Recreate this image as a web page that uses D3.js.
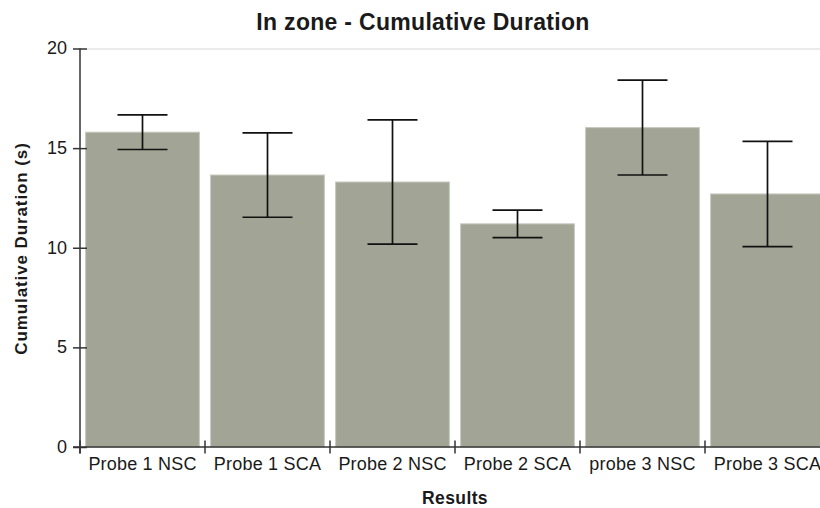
<!DOCTYPE html>
<html>
<head>
<meta charset="utf-8">
<script src="https://cdn.jsdelivr.net/npm/d3@7/dist/d3.min.js"></script>
<style>
  html, body { margin: 0; padding: 0; background: #ffffff; overflow: hidden; }
  svg { display: block; font-family: "Liberation Sans", Arial, sans-serif; }
</style>
</head>
<body>
<svg id="chart" width="820" height="508"></svg>
<script>
// Cumulative duration in zone per probe group (mean ± error)
const categories = ["Probe 1 NSC", "Probe 1 SCA", "Probe 2 NSC", "Probe 2 SCA", "probe 3 NSC", "Probe 3 SCA"];
const means      = [15.8, 13.65, 13.3, 11.2, 16.03, 12.7];
const errors     = [0.87, 2.12, 3.12, 0.69, 2.38, 2.64];
const yTicks     = [0, 5, 10, 15, 20];

const svg = d3.select("#chart");
const plot = { left: 80, right: 830, top: 48.5, bottom: 447 };

const x = d3.scaleBand()
  .domain(categories)
  .range([plot.left, plot.right])
  .paddingInner(0.09)
  .paddingOuter(0.045);

const y = d3.scaleLinear()
  .domain([0, 20])
  .range([plot.bottom, plot.top]);

const textColor = "#1a1a1a";
const axisColor = "#333333";

// Title
svg.append("text")
  .attr("x", 423)
  .attr("y", 30)
  .attr("text-anchor", "middle")
  .attr("font-size", 23)
  .attr("font-weight", "bold")
  .attr("letter-spacing", "0.3px")
  .attr("fill", textColor)
  .text("In zone - Cumulative Duration");

// Top boundary line of the plot area
svg.append("line")
  .attr("x1", plot.left + 7).attr("x2", plot.right)
  .attr("y1", y(20) + 0.5).attr("y2", y(20) + 0.5)
  .attr("stroke", "#e3e3e3").attr("stroke-width", 1.5);

// Bars
svg.append("g").selectAll("rect")
  .data(categories)
  .join("rect")
  .attr("x", d => x(d))
  .attr("y", (d, i) => y(means[i]))
  .attr("width", x.bandwidth())
  .attr("height", (d, i) => y(0) - y(means[i]))
  .attr("fill", "#a2a595")
  .attr("stroke", "#c6c8be")
  .attr("stroke-width", 1);

// Error bars
const capHalf = 25;
const eb = svg.append("g")
  .attr("stroke", "#111111")
  .attr("stroke-width", 1.7)
  .attr("fill", "none");
categories.forEach((c, i) => {
  const cx = x(c) + x.bandwidth() / 2;
  const hi = y(means[i] + errors[i]);
  const lo = y(means[i] - errors[i]);
  eb.append("line").attr("x1", cx).attr("x2", cx).attr("y1", hi).attr("y2", lo);
  eb.append("line").attr("x1", cx - capHalf).attr("x2", cx + capHalf).attr("y1", hi).attr("y2", hi);
  eb.append("line").attr("x1", cx - capHalf).attr("x2", cx + capHalf).attr("y1", lo).attr("y2", lo);
});

// Y axis with ticks crossing the axis line
const yAxis = d3.axisLeft(y)
  .tickValues(yTicks)
  .tickSizeInner(7)
  .tickSizeOuter(0)
  .tickPadding(6);
const gy = svg.append("g")
  .attr("transform", `translate(${plot.left},0)`)
  .call(yAxis);
gy.select(".domain").remove();
gy.append("line")
  .attr("x1", 0).attr("x2", 0)
  .attr("y1", y(20)).attr("y2", y(0) + 6.5)
  .attr("stroke", axisColor).attr("stroke-width", 1.5);
gy.selectAll(".tick line")
  .attr("x1", -7).attr("x2", 7)
  .attr("stroke", axisColor).attr("stroke-width", 1.5);
gy.selectAll(".tick text")
  .attr("x", -13)
  .attr("dy", "0.3em")
  .attr("font-size", 18)
  .attr("font-family", "Liberation Sans, Arial, sans-serif")
  .attr("fill", textColor);

// X axis: ticks at category boundaries
const gx = svg.append("g")
  .attr("transform", `translate(0,${plot.bottom})`);
gx.append("line")
  .attr("x1", plot.left - 7).attr("x2", plot.right)
  .attr("y1", 0).attr("y2", 0)
  .attr("stroke", axisColor).attr("stroke-width", 1.5);
const step = x.step();
const boundaries = categories.map((c, i) => plot.left + i * step);
gx.selectAll("line.b")
  .data(boundaries)
  .join("line")
  .attr("class", "b")
  .attr("x1", d => d).attr("x2", d => d)
  .attr("y1", -6.5).attr("y2", 6.5)
  .attr("stroke", axisColor).attr("stroke-width", 1.5);
gx.selectAll("text")
  .data(categories)
  .join("text")
  .attr("x", d => x(d) + x.bandwidth() / 2)
  .attr("y", 23)
  .attr("text-anchor", "middle")
  .attr("font-size", 18)
  .attr("letter-spacing", "0.2px")
  .attr("fill", textColor)
  .text(d => d);

// Axis titles
svg.append("text")
  .attr("x", (plot.left + plot.right) / 2)
  .attr("y", 504)
  .attr("text-anchor", "middle")
  .attr("font-size", 17.5)
  .attr("font-weight", "bold")
  .attr("letter-spacing", "0.4px")
  .attr("fill", textColor)
  .text("Results");

svg.append("text")
  .attr("transform", "translate(27,248.5) rotate(-90)")
  .attr("text-anchor", "middle")
  .attr("font-size", 17)
  .attr("font-weight", "bold")
  .attr("letter-spacing", "0.9px")
  .attr("fill", textColor)
  .text("Cumulative Duration (s)");
</script>
</body>
</html>
